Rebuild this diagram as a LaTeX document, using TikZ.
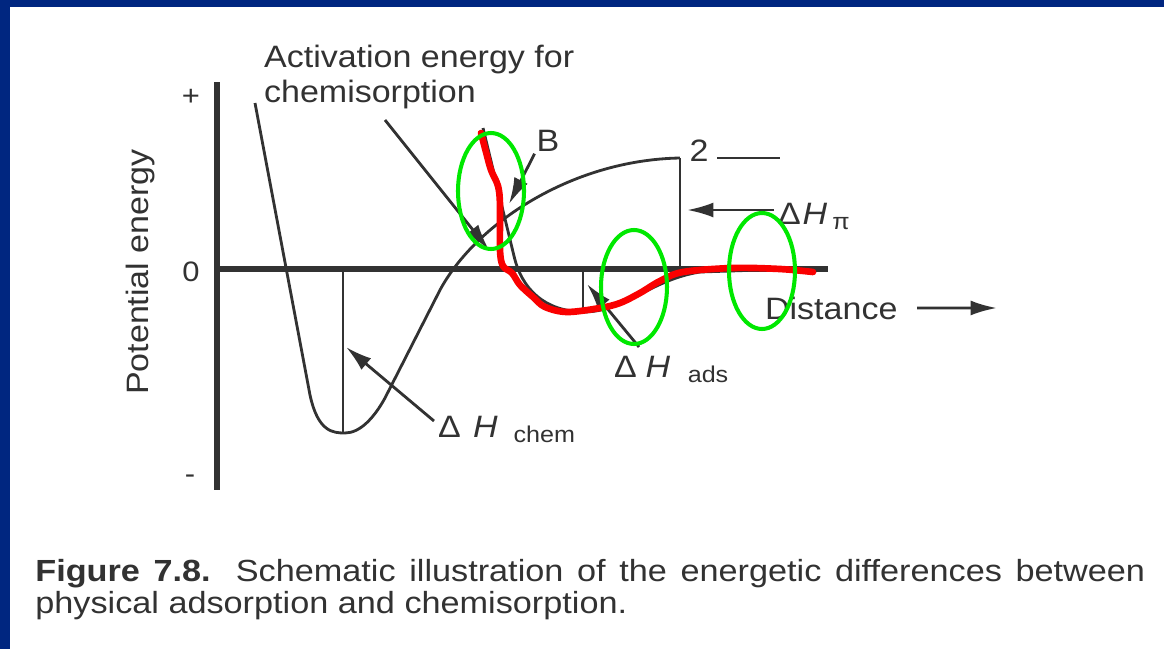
\documentclass[tikz,border=0pt]{standalone}
\usepackage{fontspec}
\setmainfont{Liberation Sans}[FakeStretch=1.1]
\newfontfamily\capfont{Liberation Sans}[FakeStretch=1.12]
\usepackage{tikz}
\usetikzlibrary{arrows.meta}
\definecolor{ink}{RGB}{50,50,50}
\definecolor{slide}{RGB}{0,38,128}
\definecolor{pen}{RGB}{250,0,0}
\definecolor{ring}{RGB}{0,232,0}
\newcommand{\enth}[3]{Δ\hspace{#1}\textit{H}\hspace{#2}\raisebox{-3pt}{\fontsize{13}{15}\selectfont #3}}

\begin{document}
\begin{tikzpicture}[x=0.02cm, y=-0.02cm, line join=round,
  axisline/.style={ink, line width=3pt},
  curveline/.style={ink, line width=1.6pt},
  dropline/.style={ink, line width=1.4pt},
  pointer/.style={ink, line width=1.6pt, -{Latex[length=15pt,width=8.5pt]}},
  lbl/.style={text=ink, inner sep=1pt, font=\fontsize{17.6}{20}\selectfont},
  ticklbl/.style={text=ink, inner sep=1pt, font=\fontsize{16}{18}\selectfont},
  caplbl/.style={text=ink, inner sep=0pt, anchor=base west, font=\capfont\fontsize{17.4}{19}\selectfont},
  redtrace/.style={pen, line width=3.8pt, line cap=round},
  greenring/.style={ring, line width=2.3pt}]
\useasboundingbox (0,0) rectangle (1164,649);
\fill[white] (0,0) rectangle (1164,649);
\fill[slide] (0,0) rectangle (1164,7);
\fill[slide] (0,0) rectangle (10,649);

% axes
\coordinate (ytop) at (217,82);
\coordinate (ybot) at (217,490);
\coordinate (orig) at (217,269);
\coordinate (xend) at (828,269);
\draw[axisline] (ytop) -- (ybot);
\draw[axisline] (orig) -- (xend);
\node[ticklbl] (plus) at (191,97) {+};
\node[ticklbl] (zero) at (191,272) {0};
\node[ticklbl] (minus) at (190,479) {-};
\node[lbl, rotate=90, anchor=base] (ylab) at (148,272) {Potential energy};
\node[lbl, anchor=base west] (dist) at (763,319) {Distance};
\coordinate (distEnd) at (997,308);
\draw[pointer] ([xshift=10pt]dist.east) -- (distEnd);

% chemisorption curve
\draw[curveline] (255,103) -- (310,395) .. controls (318,432) and (333,433) .. (345,433)
    .. controls (360,433) and (374,418) .. (385,398) -- (440,290)
    .. controls (475,225) and (570,160) .. (680,158);
\coordinate (lvl) at (680,158);
\coordinate (lvlAx) at (680,269);
\draw[dropline] (lvl) -- (lvlAx);
\node[lbl] (two) at (699,151) {2};
\coordinate (dashA) at (717,158);
\coordinate (dashB) at (780,158);
\draw[curveline] (dashA) -- (dashB);

% physisorption curve
\draw[curveline] (483,128) -- (514,256) .. controls (522,290) and (545,311) .. (583,312)
    .. controls (625,312) and (650,280) .. (700,272) -- (760,270);

% drop lines
\coordinate (chemMin) at (343,432);
\coordinate (chemAx) at (343,269);
\coordinate (adsMin) at (583,312);
\coordinate (adsAx) at (583,269);
\draw[dropline] (chemAx) -- (chemMin);
\draw[dropline] (adsAx) -- (adsMin);

% labels and pointers
\node[lbl, anchor=base west] (act) at (262,67) {Activation energy for};
\node[lbl, anchor=base west] (act2) at (262,102) {chemisorption};
\coordinate (actTail) at (385,120);
\coordinate (actTip) at (489,250);
\draw[pointer] (actTail) -- (actTip);

\node[lbl] (B) at (548,141) {B};
\coordinate (bTip) at (509,204);
\draw[pointer] (B.south west) -- (bTip);

\node[lbl, anchor=base west] (hchem) at (436,437) {\enth{7pt}{9pt}{chem}};
\coordinate (chemTail) at (434,421);
\coordinate (chemTip) at (346,347);
\draw[pointer] (chemTail) -- (chemTip);

\node[lbl, anchor=base west] (hads) at (612,377) {\enth{5pt}{10pt}{ads}};
\coordinate (adsTail) at (639,347);
\coordinate (adsTip) at (587,284);
\draw[pointer] (adsTail) -- (adsTip);

\node[lbl, anchor=base west] (hpi) at (776,224) {\enth{1pt}{3pt}{π}};
\coordinate (piTail) at (774,210);
\coordinate (piTip) at (687,210);
\draw[pointer] (piTail) -- (piTip);

% hand marks
\draw[redtrace] plot[smooth, tension=0.55] coordinates {(481,133) (486,152) (491,170)
    (498,186) (500,205) (500,250) (503,266) (512,273) (520,285) (533,297) (545,307)
    (567,312) (600,308) (620,303) (640,293) (660,281) (683,272) (733,268) (780,269) (813,272)};
\draw[greenring] (491,191) ellipse [x radius=33, y radius=58];
\draw[greenring] (634,287) ellipse [x radius=33, y radius=57];
\draw[greenring] (762,271) ellipse [x radius=33, y radius=58];

% caption
\node[caplbl] (cap1) at (35,581) {\makebox[22.2cm][s]{\textbf{Figure 7.8.} Schematic illustration of the energetic differences between}};
\node[caplbl] (cap2) at (35,613) {physical adsorption and chemisorption.};
\end{tikzpicture}
\end{document}
